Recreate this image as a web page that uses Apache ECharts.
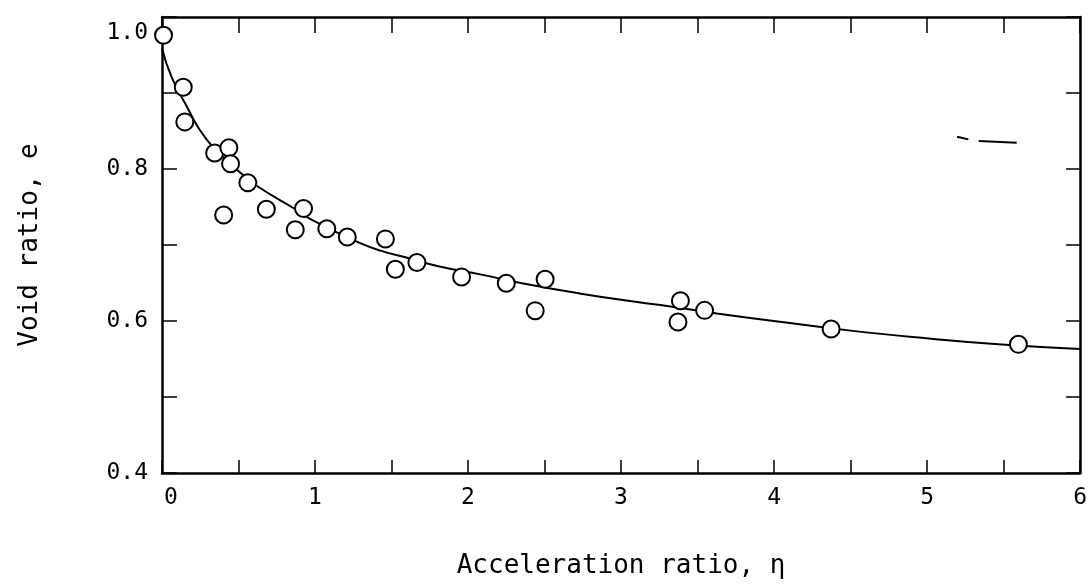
<!DOCTYPE html>
<html>
<head>
<meta charset="utf-8">
<script src="https://cdn.jsdelivr.net/npm/echarts@6/dist/echarts.min.js"></script>
<style>html,body{margin:0;padding:0;background:#fff}#c{width:1090px;height:586px}</style>
</head>
<body>
<div id="c"></div>
<script>
// Measured points (acceleration ratio η, void ratio e)
const pointEta = [0.01, 0.139, 0.149, 0.344, 0.437, 0.448, 0.561, 0.403, 0.682, 0.925, 0.871, 1.077, 1.211, 1.46, 1.525, 1.666, 1.958, 2.25, 2.504, 2.439, 3.388, 3.372, 3.546, 4.373, 5.597];
const pointE   = [0.976, 0.9075, 0.862, 0.821, 0.828, 0.807, 0.782, 0.7395, 0.747, 0.748, 0.720, 0.7214, 0.7105, 0.708, 0.668, 0.677, 0.658, 0.6496, 0.655, 0.6136, 0.6267, 0.5987, 0.614, 0.5895, 0.5693];
// Fitted curve
const curveEta = [0, 0.063, 0.171, 0.236, 0.333, 0.518, 0.626, 0.864, 0.962, 1.276, 1.438, 1.59, 1.806, 2.088, 2.37, 2.738, 3.106, 3.322, 3.626, 4.037, 4.514, 5.012, 5.489, 6.0];
const curveE   = [0.959, 0.921, 0.879, 0.855, 0.829, 0.794, 0.777, 0.748, 0.735, 0.704, 0.692, 0.684, 0.672, 0.661, 0.649, 0.636, 0.625, 0.619, 0.610, 0.599, 0.587, 0.577, 0.569, 0.563];
// Stray stroke in the scan (upper right)
const strayEta = [5.196, 5.27, null, 5.337, 5.586];
const strayE   = [0.8425, 0.839, null, 0.837, 0.8346];
// Axis settings / labels
const xTickLabels = ['0', '1', '2', '3', '4', '5', '6'];
const yTickLabels = ['0.4', '0.6', '0.8', '1.0'];
const xTitle = 'Acceleration ratio, η';
const yTitle = 'Void ratio, e';

const FONT = '"DejaVu Sans Mono", "Liberation Mono", monospace';
const pts = pointEta.map((x, i) => [x, pointE[i]]);
const curve = curveEta.map((x, i) => [x, curveE[i]]);
const stray = strayEta.map((x, i) => x === null ? [null, null] : [x, strayE[i]]);

const axLine = { show: true, onZero: false, lineStyle: { color: '#000', width: 2.5 } };
const chart = echarts.init(document.getElementById('c'), null, { renderer: 'canvas' });
chart.setOption({
  backgroundColor: '#fff',
  animation: false,
  grid: { left: 162, right: 5, top: 17, bottom: 113, containLabel: false },
  xAxis: [{
    type: 'value', min: 0, max: 6, interval: 0.5, position: 'bottom',
    axisLine: axLine,
    axisTick: { show: true, inside: true, length: 13, lineStyle: { color: '#000', width: 1.5 } },
    splitLine: { show: false },
    axisLabel: {
      color: '#000', fontFamily: FONT, fontSize: 23, margin: 14,
      formatter: v => {
        const i = Math.round(v * 2);
        if (i % 2 !== 0) return '';
        return i === 0 ? '{z|0}' : xTickLabels[i / 2];
      },
      rich: { z: { color: '#000', fontFamily: FONT, fontSize: 23, padding: [0, 0, 0, 18] } }
    },
    name: xTitle, nameLocation: 'middle', nameGap: 80,
    nameTextStyle: { color: '#000', fontFamily: FONT, fontSize: 26 }
  }, {
    type: 'value', min: 0, max: 6, interval: 0.5, position: 'top',
    axisLine: axLine,
    axisTick: { show: true, inside: true, length: 16, lineStyle: { color: '#000', width: 1.5 } },
    axisLabel: { show: false }, splitLine: { show: false }
  }],
  yAxis: [{
    type: 'value', min: 0.4, max: 1.0, interval: 0.1, position: 'left',
    axisLine: axLine,
    axisTick: { show: true, inside: true, length: 15, lineStyle: { color: '#000', width: 1.5 } },
    splitLine: { show: false },
    axisLabel: {
      color: '#000', fontFamily: FONT, fontSize: 23, margin: 14,
      formatter: v => {
        const i = Math.round(v * 10);
        if (i % 2 !== 0) return '';
        const lab = yTickLabels[(i - 4) / 2];
        return i === 10 ? '{low|' + lab + '}' : lab;
      },
      rich: { low: { color: '#000', fontFamily: FONT, fontSize: 23, padding: [32, 0, 0, 0] } }
    },
    name: yTitle, nameLocation: 'middle', nameRotate: 90, nameGap: 119,
    nameTextStyle: { color: '#000', fontFamily: FONT, fontSize: 26 }
  }, {
    type: 'value', min: 0.4, max: 1.0, interval: 0.1, position: 'right',
    axisLine: axLine,
    axisTick: { show: true, inside: true, length: 14, lineStyle: { color: '#000', width: 1.5 } },
    axisLabel: { show: false }, splitLine: { show: false }
  }],
  series: [{
    type: 'line', data: curve, smooth: 0.5, showSymbol: false, symbol: 'none',
    lineStyle: { color: '#000', width: 2 }, z: 2, silent: true
  }, {
    type: 'line', data: stray, showSymbol: false, symbol: 'none', connectNulls: false,
    lineStyle: { color: '#000', width: 2 }, z: 2, silent: true
  }, {
    type: 'scatter', data: pts, symbol: 'circle', symbolSize: 17,
    itemStyle: { color: '#fff', borderColor: '#000', borderWidth: 2, opacity: 1 }, z: 3
  }]
});
</script>
</body>
</html>
